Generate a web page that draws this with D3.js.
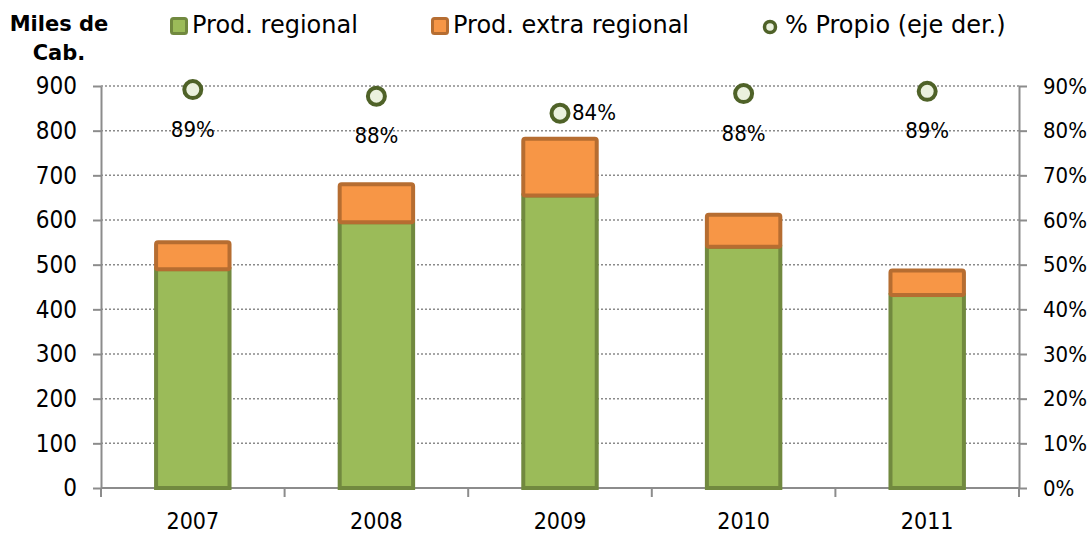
<!DOCTYPE html>
<html lang="es">
  <head>
    <meta charset="utf-8" />
    <title>Producción regional</title>
    <style>
      body {
        margin: 0;
        background: #fff;
      }
      svg {
        display: block;
        font-family: "DejaVu Sans", sans-serif;
      }
      .grid line {
        stroke: #8a8a8a;
        stroke-width: 1.5;
        stroke-dasharray: 2, 2;
      }
      .axis path,
      .axis line {
        stroke: #8c8c8c;
        stroke-width: 2;
      }
      .axis text {
        fill: #000;
      }
    </style>
    <script src="https://d3js.org/d3.v7.min.js"></script>
  </head>
  <body>
    <svg width="1092" height="536"></svg>
    <script>
      // values (miles de cabezas)
      var years = ["2007", "2008", "2009", "2010", "2011"];
      var regional = [490, 595, 655, 540, 432];
      var extraRegional = [60, 85, 127, 72, 55];
      var pctPropio = [89.2, 87.7, 83.9, 88.3, 88.8];
      var leftTicks = [0, 100, 200, 300, 400, 500, 600, 700, 800, 900];
      var rightTicks = [0, 10, 20, 30, 40, 50, 60, 70, 80, 90];
      var legendNames = ["Prod. regional", "Prod. extra regional", "% Propio (eje der.)"];

      var svg = d3.select("svg");
      // plot area edges (note: "top" is taken by window.top)
      var pLeft = 101,
        pRight = 1019,
        pTop = 86,
        pBottom = 488;

      var x = d3
        .scaleBand()
        .domain(years)
        .range([pLeft, pRight])
        .paddingInner(0.6)
        .paddingOuter(0.3);

      var y = d3.scaleLinear().domain([0, 900]).range([pBottom, pTop]);
      var y2 = d3.scaleLinear().domain([0, 90]).range([pBottom, pTop]);

      // dotted gridlines
      svg
        .append("g")
        .attr("class", "grid")
        .selectAll("line")
        .data(leftTicks.filter((d) => d > 0))
        .enter()
        .append("line")
        .attr("x1", pLeft)
        .attr("x2", pRight)
        .attr("y1", (d) => y(d))
        .attr("y2", (d) => y(d));

      // left axis
      var gl = svg
        .append("g")
        .attr("class", "axis")
        .attr("transform", `translate(${pLeft},0)`)
        .call(d3.axisLeft(y).tickValues(leftTicks).tickSize(8).tickPadding(16).tickSizeOuter(0));
      gl.selectAll("text").attr("font-size", 24).attr("font-family", "DejaVu Sans Condensed");

      // right axis
      var gr = svg
        .append("g")
        .attr("class", "axis")
        .attr("transform", `translate(${pRight},0)`)
        .call(
          d3
            .axisRight(y2)
            .tickValues(rightTicks)
            .tickSize(8)
            .tickPadding(16)
            .tickSizeOuter(0)
            .tickFormat((d) => d + "%")
        );
      gr.selectAll("text")
        .attr("font-size", 22)
        .attr("font-family", "DejaVu Sans Condensed");

      // bottom axis: ticks between categories
      var step = x.step();
      var bounds = d3.range(years.length + 1).map((i) => pLeft + i * step);
      var gb = svg.append("g").attr("class", "axis");
      gb.append("line")
        .attr("x1", pLeft)
        .attr("x2", pRight)
        .attr("y1", pBottom)
        .attr("y2", pBottom);
      gb.selectAll("line.tk")
        .data(bounds)
        .enter()
        .append("line")
        .attr("class", "tk")
        .attr("x1", (d) => d)
        .attr("x2", (d) => d)
        .attr("y1", pBottom)
        .attr("y2", pBottom + 9);
      gb.selectAll("text")
        .data(years)
        .enter()
        .append("text")
        .attr("x", (d) => x(d) + x.bandwidth() / 2)
        .attr("y", 529)
        .attr("text-anchor", "middle")
        .attr("font-size", 23)
        .attr("font-family", "DejaVu Sans Condensed")
        .text((d) => d);

      // stacked bars
      var bars = svg.append("g");
      bars
        .selectAll("rect.reg")
        .data(years)
        .enter()
        .append("rect")
        .attr("class", "reg")
        .attr("x", (d) => x(d))
        .attr("width", x.bandwidth())
        .attr("y", (d, i) => y(regional[i]))
        .attr("height", (d, i) => y(0) - y(regional[i]))
        .attr("fill", "#9bbb59")
        .attr("stroke", "#71893f")
        .attr("stroke-width", 4);
      bars
        .selectAll("rect.ext")
        .data(years)
        .enter()
        .append("rect")
        .attr("class", "ext")
        .attr("x", (d) => x(d))
        .attr("width", x.bandwidth())
        .attr("y", (d, i) => y(regional[i] + extraRegional[i]))
        .attr("height", (d, i) => y(regional[i]) - y(regional[i] + extraRegional[i]))
        .attr("rx", 2)
        .attr("fill", "#f79646")
        .attr("stroke", "#b66d31")
        .attr("stroke-width", 4);

      // % propio markers and labels
      var pts = svg.append("g");
      years.forEach((yr, i) => {
        var cx = x(yr) + x.bandwidth() / 2;
        var cy = y2(pctPropio[i]);
        pts.append("circle")
          .attr("cx", cx)
          .attr("cy", cy)
          .attr("r", 8.5)
          .attr("fill", "#ebf1de")
          .attr("stroke", "#4f6228")
          .attr("stroke-width", 4);
        // label goes below the marker unless it would run into the bar
        var barTop = y(regional[i] + extraRegional[i]);
        var below = cy + 47 < barTop - 4;
        pts.append("text")
          .attr("x", below ? cx : cx + 12)
          .attr("y", below ? cy + 47 : cy + 7)
          .attr("text-anchor", below ? "middle" : "start")
          .attr("font-size", 22)
          .attr("font-family", "DejaVu Sans Condensed")
          .text(Math.round(pctPropio[i]) + "%");
      });

      // y axis title
      var title = svg
        .append("text")
        .attr("text-anchor", "middle")
        .attr("font-weight", "bold")
        .attr("font-size", 21);
      title.append("tspan").attr("x", 59).attr("y", 31).text("Miles de");
      title.append("tspan").attr("x", 59).attr("y", 60).text("Cab.");

      // legend
      var legendX = [170, 431, 763];
      var lg = svg.append("g");
      lg.append("rect")
        .attr("x", legendX[0] + 1.5)
        .attr("y", 18.5)
        .attr("width", 15)
        .attr("height", 15)
        .attr("rx", 2)
        .attr("fill", "#9bbb59")
        .attr("stroke", "#71893f")
        .attr("stroke-width", 3);
      lg.append("rect")
        .attr("x", legendX[1] + 1.5)
        .attr("y", 18.5)
        .attr("width", 15)
        .attr("height", 15)
        .attr("rx", 2)
        .attr("fill", "#f79646")
        .attr("stroke", "#b66d31")
        .attr("stroke-width", 3);
      lg.append("circle")
        .attr("cx", legendX[2] + 7)
        .attr("cy", 27)
        .attr("r", 5.5)
        .attr("fill", "#ebf1de")
        .attr("stroke", "#4f6228")
        .attr("stroke-width", 3.5);
      lg.selectAll("text")
        .data(legendNames)
        .enter()
        .append("text")
        .attr("x", (d, i) => legendX[i] + 22)
        .attr("y", 33)
        .attr("font-size", 24)
        .text((d) => d);
    </script>
  </body>
</html>
